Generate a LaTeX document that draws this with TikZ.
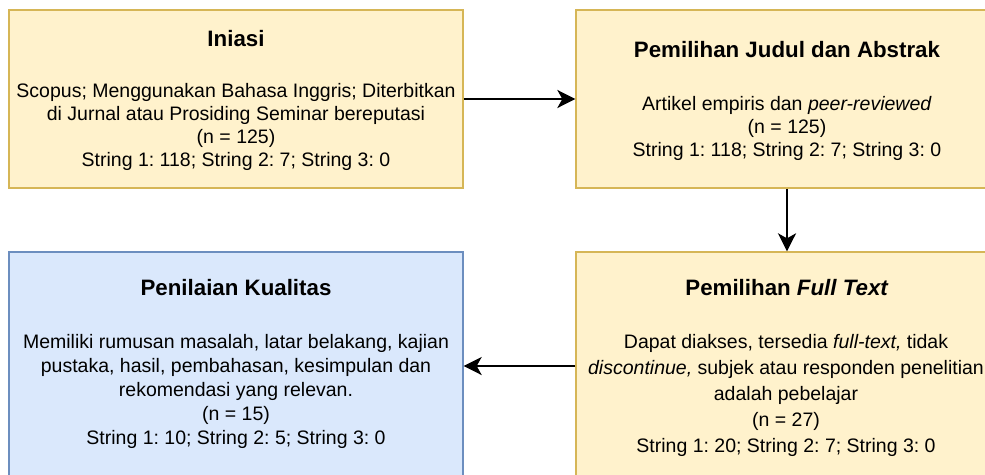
\documentclass[tikz,border=0pt]{standalone}
\usepackage{fontspec}
\setmainfont{Liberation Sans}
\usetikzlibrary{arrows.meta}
\definecolor{yfill}{HTML}{FFF2CC}
\definecolor{ydraw}{HTML}{D6B656}
\definecolor{bfill}{HTML}{DAE8FC}
\definecolor{bdraw}{HTML}{6C8EBF}
\tikzset{
  ybox/.style={draw=ydraw, fill=yfill, line width=1.3pt, inner sep=0pt, minimum width=#1, minimum height=178pt},
  bbox/.style={draw=bdraw, fill=bfill, line width=1.3pt, inner sep=0pt, minimum width=#1, minimum height=228pt},
  ttl/.style={anchor=base, inner sep=0pt, font=\fontsize{22.3}{26}\selectfont\bfseries\frenchspacing},
  bodytext/.style={anchor=north, inner sep=0pt, align=center, font=\fontsize{19.5}{#1}\selectfont\frenchspacing},
  arr/.style={line width=2.6pt, -{Stealth[length=18pt, width=18pt, inset=5pt]}}
}
\begin{document}
\begin{tikzpicture}[x=1pt, y=-1pt]
\useasboundingbox (0,0) rectangle (985,474);
\clip (0,0) rectangle (985,474);
% boxes
\node[ybox=454pt] (ini) at (236,99) {};
\node[ybox=422pt] (judul) at (787,99) {};
\node[bbox=454pt, minimum height=228pt] (nilai) at (236,366) {};
\node[ybox=422pt, minimum height=228pt] (full) at (787,366) {};
% titles
\node[ttl] (iniT) at (236,46) {Iniasi};
\node[ttl] (judulT) at (787,57) {Pemilihan Judul dan Abstrak};
\node[ttl] (nilaiT) at (236,295) {Penilaian Kualitas};
\node[ttl] (fullT) at (787,295) {Pemilihan \textit{Full Text}};
% bodies
\node[bodytext=23.3pt] (iniB) at (236,82.7) {Scopus; Menggunakan Bahasa Inggris; Diterbitkan\\di Jurnal atau Prosiding Seminar bereputasi\\(n = 125)\\String 1: 118; String 2: 7; String 3: 0};
\node[bodytext=23.3pt] (judulB) at (787,95.7) {Artikel empiris dan \textit{peer-reviewed}\\(n = 125)\\String 1: 118; String 2: 7; String 3: 0};
\node[bodytext=24pt] (nilaiB) at (236,333.7) {Memiliki rumusan masalah, latar belakang, kajian\\pustaka, hasil, pembahasan, kesimpulan dan\\rekomendasi yang relevan.\\(n = 15)\\String 1: 10; String 2: 5; String 3: 0};
\node[bodytext=26pt] (fullB) at (786,333.7) {Dapat diakses, tersedia \textit{full-text,} tidak\\\textit{discontinue,} subjek atau responden penelitian\\adalah pebelajar\\(n = 27)\\String 1: 20; String 2: 7; String 3: 0};
% connectors
\draw[arr] (ini.east) -- (judul.west);
\draw[arr] (judul.south) -- (full.north);
\draw[arr] (full.west) -- (nilai.east);
\end{tikzpicture}
\end{document}
